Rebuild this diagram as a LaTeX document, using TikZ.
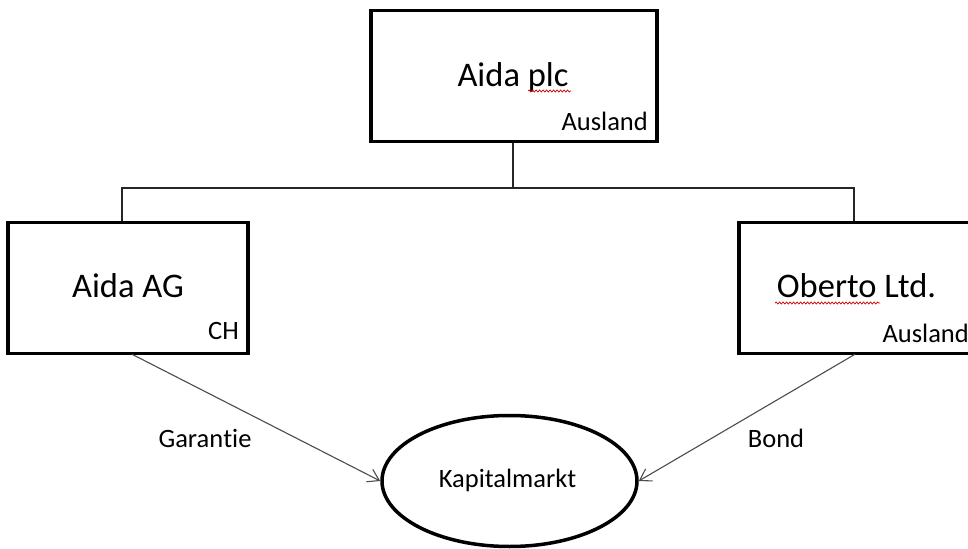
\documentclass[tikz,border=0pt]{standalone}
\usepackage{fontspec}
\setmainfont{Carlito}[Ligatures=NoCommon]
\usetikzlibrary{arrows.meta,decorations.pathmorphing,shapes.geometric}
\begin{document}
\begin{tikzpicture}[x=1bp,y=-1bp,
  box/.style={draw=black,line width=3.5bp,minimum width=#1,minimum height=131bp,inner sep=0pt},
  big/.style={font=\fontsize{34.5bp}{40bp}\selectfont,inner sep=0pt,anchor=base},
  small/.style={font=\fontsize{26.5bp}{31bp}\selectfont,inner sep=0pt},
  tree/.style={line width=1.2bp,draw=black!85},
  flow/.style={line width=1.1bp,draw=black!70,-{Straight Barb[length=11bp,width=14bp,line width=1.1bp]}},
  squig/.style={draw=red!80!black,line width=0.7bp,decorate,decoration={snake,segment length=3.5bp,amplitude=1bp}}]
\useasboundingbox (0,0) rectangle (968,549);
\clip (0,0) rectangle (968,549);
\fill[white] (0,0) rectangle (968,549);
% boxes
\node[box=286bp] (top) at (514,76) {};
\node[box=240bp] (lbox) at (128,288) {};
\node[box=239bp] (rbox) at (858.5,288) {};
\node[draw=black,line width=3.5bp,ellipse,minimum width=255bp,minimum height=131bp,inner sep=0pt] (ell) at (509.5,481) {};
% texts
\node[big] (t1) at (513,87) {Aida plc};
\node[small,anchor=base east] (t1s) at (648,131) {Ausland};
\node[big] (t2) at (128,298) {Aida AG};
\node[small,anchor=base east] (t2s) at (239,340) {CH};
\node[big] (t3) at (856.5,298) {Oberto Ltd.};
\node[small,anchor=base east] (t3s) at (969,343) {Ausland};
\node[small,anchor=base] (km) at (507.5,487) {Kapitalmarkt};
\node[small,anchor=base] (g) at (205,447) {Garan\kern0pt tie};
\node[small,anchor=base] (b) at (776,447) {Bond};
% spell-check squiggles
\draw[squig] (528,91) -- (571,91);
\draw[squig] (775,303) -- (880,303);
% tree
\coordinate (j) at (513,188);
\draw[tree] (j |- top.south) -- (j);
\draw[tree] ([xshift=-6bp]lbox.north) |- (j) -| ([xshift=-4.5bp]rbox.north);
% arrows
\draw[flow] ([xshift=4bp,yshift=1bp]lbox.south) -- (ell.west);
\draw[flow] ([xshift=-3.5bp,yshift=1bp]rbox.south) -- (ell.east);
\end{tikzpicture}
\end{document}
